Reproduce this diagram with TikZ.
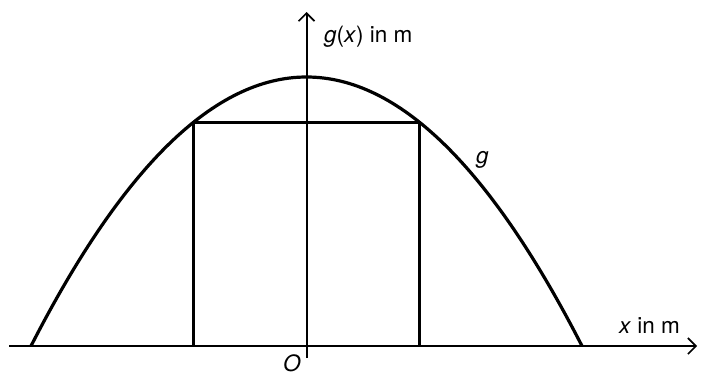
\documentclass[tikz,border=0pt]{standalone}
\usepackage{fontspec}
\setmainfont{TeX Gyre Heros}
\usetikzlibrary{arrows.meta}
\begin{document}
\begin{tikzpicture}[x=1pt,y=-1pt,
  axis/.style={line width=2pt,-{Straight Barb[length=8pt,width=16pt,line width=1.6pt]}},
  curve/.style={line width=3.2pt},
  rectline/.style={line width=3.2pt},
  lbl/.style={font=\fontsize{22.5}{26}\selectfont,inner sep=0pt}]
\useasboundingbox (0,0) rectangle (708,376);
\coordinate (xs) at (9,346);
\coordinate (xe) at (697,346);
\coordinate (ys) at (306.5,358);
\coordinate (ye) at (306.5,12);
\draw[axis] (xs) -- (xe);
\draw[axis] (ys) -- (ye);
\coordinate (L) at (31,346);
\coordinate (R) at (582,346);
\draw[curve] (L) .. controls (214.67,-12.67) and (398.33,-12.67) .. (R);
\coordinate (A) at (193.5,346);
\coordinate (B) at (419.5,346);
\coordinate (C) at (419.5,122.6);
\coordinate (D) at (193.5,122.6);
\draw[rectline,line join=miter] (A) -- (D) -- (C) -- (B);
\node[lbl,anchor=base west] (ylab) at (324,42) {\textit{g}(\textit{x}) in m};
\node[lbl,anchor=base west] (xlab) at (619,333) {\textit{x} in m};
\node[lbl,anchor=base west] (olab) at (283,371.5) {\textit{O}};
\node[lbl,anchor=base west] (glab) at (476,163) {\textit{g}};
\end{tikzpicture}
\end{document}
